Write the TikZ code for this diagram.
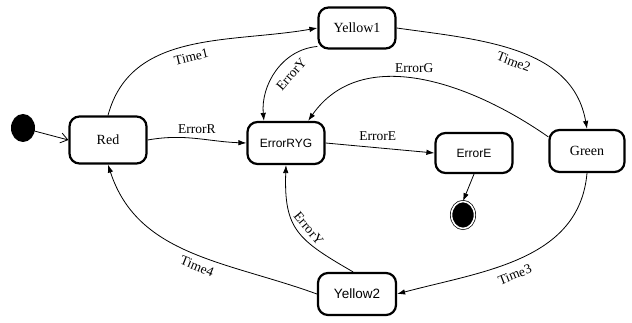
\documentclass[tikz,border=0pt]{standalone}
\usepackage{fontspec}
\setmainfont{Liberation Serif}
\newfontfamily\arialfont{Liberation Sans}
\usetikzlibrary{arrows.meta,shapes.geometric}

\tikzset{
  state/.style={draw,rounded corners=10pt,line width=2.2pt,inner sep=0pt,
    minimum width=77pt,minimum height=42pt,font=\fontsize{14}{16}\selectfont},
  sansstate/.style={state,font=\arialfont\fontsize{12}{14}\selectfont},
  trans/.style={-{Latex[length=8pt,width=5.5pt]},line width=0.8pt},
  lbl/.style={font=\fontsize{13.5}{15}\selectfont,inner sep=1pt}
}

\begin{document}
\begin{tikzpicture}[x=1pt,y=1pt]
  \useasboundingbox (0,0) rectangle (632,323);
  % states
  \node[ellipse,fill=black,minimum width=24pt,minimum height=28pt,inner sep=0pt](init) at (23,195){};
  \node[state,minimum height=47pt](red) at (108,183){Red};
  \node[sansstate](err) at (286,180){ErrorRYG};
  \node[state,minimum height=41pt](yel1) at (357,295){Yellow1};
  \node[sansstate,minimum height=40pt](erre) at (474,170){ErrorE};
  \node[state,minimum width=75pt](green) at (587,172){Green};
  \node[sansstate,minimum width=78pt,font=\arialfont\fontsize{13.5}{15}\selectfont](yel2) at (357,29){Yellow2};
  \node[ellipse,fill=black,draw=black,double=white,double distance=1.6pt,line width=0.7pt,
    minimum width=23pt,minimum height=27pt,inner sep=0pt](final) at (463,108){};
  % transitions
  \draw[line width=0.8pt,-{Straight Barb[length=7pt,width=10pt]}](init)--(red.west);
  \draw[trans](red.north) to[out=75,in=190]
    node[lbl,sloped,below=6pt,pos=0.5]{Time1} (yel1.west);
  \draw[trans](red.east) to[out=10,in=178]
    node[lbl,above=3pt,pos=0.5]{ErrorR} (err.west);
  \draw[trans](yel1.205) to[out=185,in=95]
    node[lbl,sloped,below=8pt,pos=0.42]{ErrorY} (err.135);
  \draw[trans](yel1.east) to[out=-8,in=100]
    node[lbl,sloped,below=5pt,pos=0.5]{Time2} (green.north);
  \draw[trans](green.160) to[out=145,in=55]
    node[lbl,above=5pt,pos=0.52]{ErrorG} (err.45);
  \draw[trans](err.east)--node[lbl,above=6pt,pos=0.48]{ErrorE}(erre.west);
  \draw[trans](erre.south)--(final.north);
  \draw[trans](green.south) to[out=-95,in=15]
    node[lbl,sloped,below=7pt,pos=0.55]{Time3} (yel2.east);
  \draw[trans](yel2.west) to[out=160,in=-72]
    node[lbl,sloped,below=5pt,pos=0.45]{Time4} (red.south);
  \draw[trans](yel2.100) to[out=150,in=-92,looseness=1.3]
    node[lbl,sloped,above=4pt,pos=0.45]{ErrorY} (err.south);
\end{tikzpicture}
\end{document}
